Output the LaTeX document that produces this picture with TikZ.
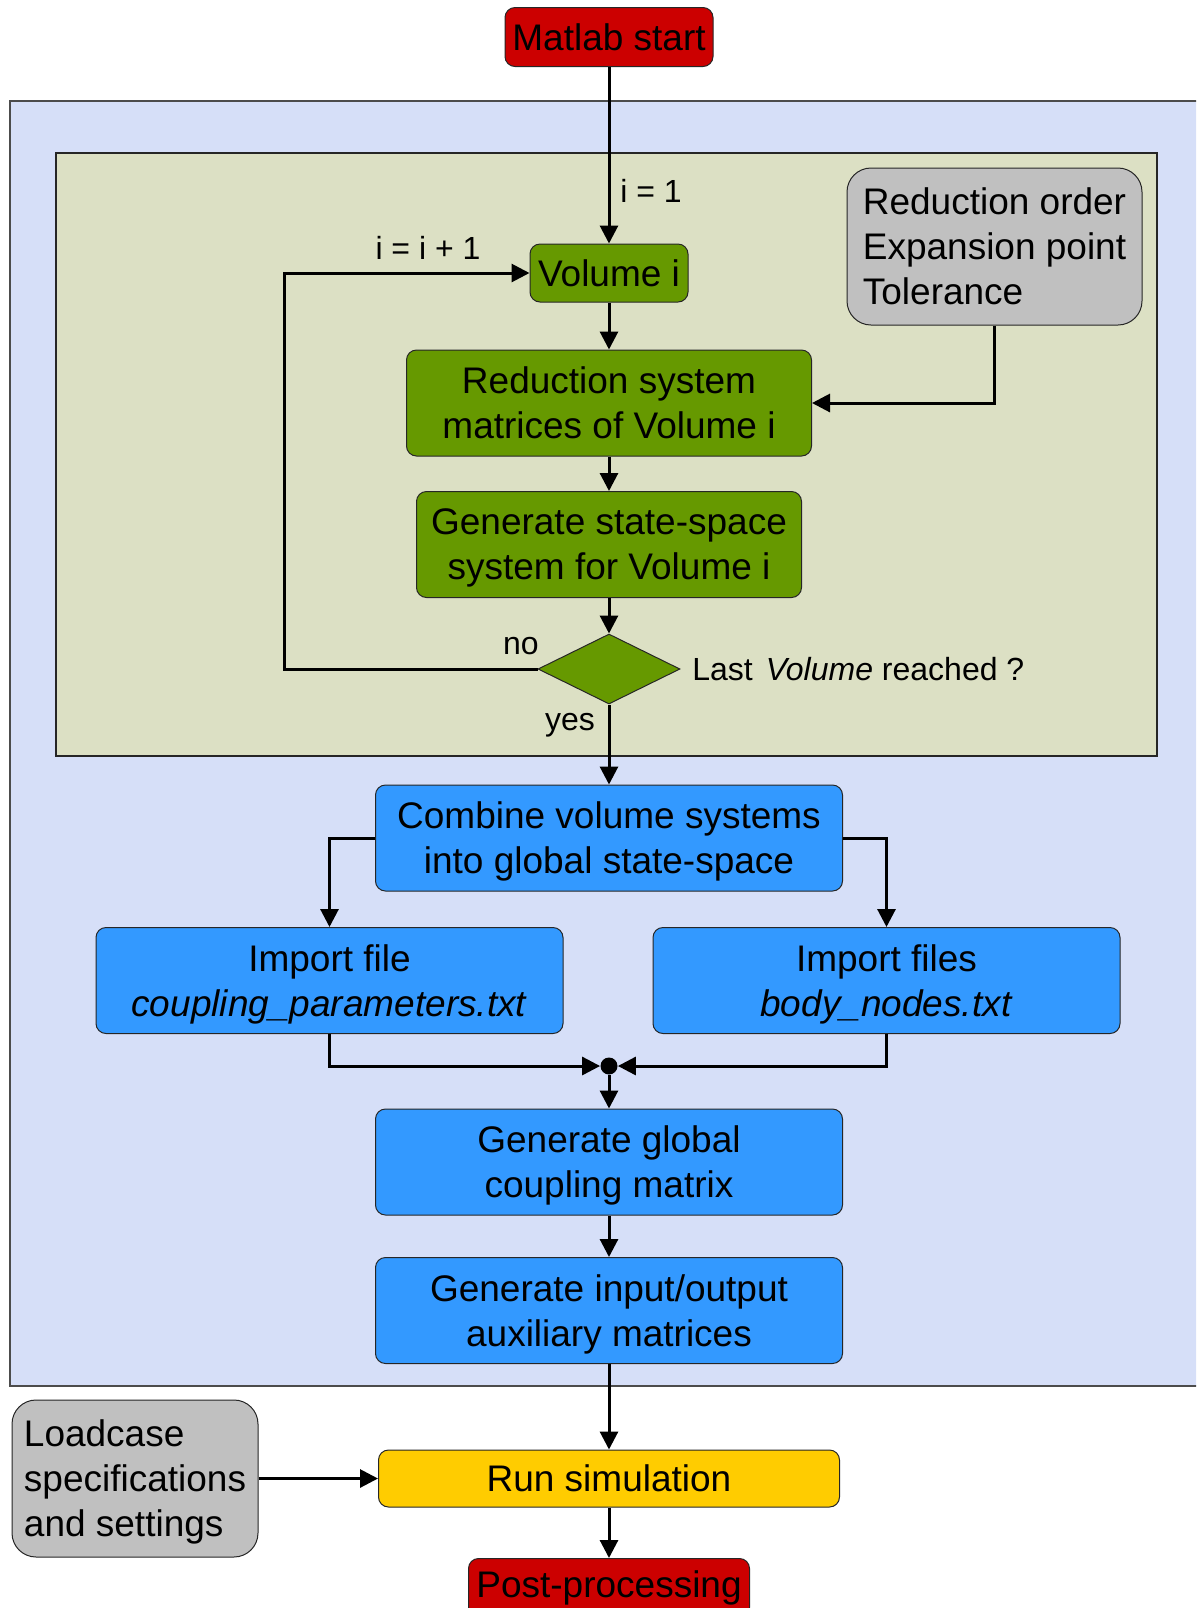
\documentclass[tikz,border=0pt]{standalone}
\usepackage{fontspec}
\setmainfont{Liberation Sans}
\usetikzlibrary{arrows.meta, shapes.geometric}

\definecolor{startred}{RGB}{204,0,0}
\definecolor{volgreen}{RGB}{102,153,0}
\definecolor{loopbg}{RGB}{220,224,196}
\definecolor{modelbg}{RGB}{214,223,248}
\definecolor{simblue}{RGB}{51,153,255}
\definecolor{paramgray}{RGB}{192,192,192}
\definecolor{runyellow}{RGB}{255,204,0}

\tikzset{
  box/.style={draw=black!85, line width=0.5pt, rounded corners=5pt, align=center, inner sep=2pt},
  % two-line boxes sit their text a bit lower
  twoline/.style={text depth=-1pt},
  term/.style={box, fill=startred, minimum height=29.5pt},
  vbox/.style={box, fill=volgreen, minimum height=53pt},
  sbox/.style={box, twoline, fill=simblue, minimum width=233.5pt, minimum height=53pt},
  param/.style={box, fill=paramgray, rounded corners=12pt, align=left},
  flow/.style={line width=1.5pt, -{Triangle[length=9pt, width=9pt]}},
  lbl/.style={font=\fontsize{16}{19}\selectfont, inner sep=0pt},
}

\begin{document}
\begin{tikzpicture}[x=0.5pt, y=-0.5pt, font=\fontsize{18.5}{22.5}\selectfont]
\useasboundingbox (0,0) rectangle (1196,1608);
\clip (0,0) rectangle (1196,1608);

% frames
\path[draw=black!70, line width=0.6pt, fill=modelbg] (10,101) rectangle (1220,1386);
\path[draw=black!85, line width=0.6pt, fill=loopbg] (56,153) rectangle (1157,756);

% loop over the volumes
\node[term, minimum width=104pt] (start) at (609,37) {Matlab start};
\node[vbox, minimum width=79pt, minimum height=29pt] (vol) at (609,273) {Volume i};
\node[vbox, text depth=-4pt, minimum width=202.5pt] (red) at (609,403) {Reduction system\\matrices of Volume i};
\node[vbox, twoline, minimum width=192.5pt] (gen) at (609,544.5) {Generate state-space\\system for Volume i};
\node[diamond, fill=volgreen, draw=black!85, line width=0.5pt, inner sep=0pt,
      minimum width=71pt, minimum height=35pt] (last) at (609,669) {};
\node[param, text depth=-4pt, minimum width=147.5pt, minimum height=78.5pt] (ord) at (994.5,246.5)
  {Reduction order\\Expansion point\\Tolerance};
\coordinate (loopx) at (284,273);

\node[lbl, anchor=west] (lblone) at (620,191) {i = 1};
\node[lbl] (lblinc) at (428,248) {i = i + 1};
\node[lbl] (lblno) at (521,646) {no};
\node[lbl] (lblyes) at (570,725) {yes};
\node[lbl, anchor=west] (lbllast) at (692,669) {Last\ \hspace{2pt}\textit{Volume} reached ?};

% global system
\node[sbox] (comb) at (609,838) {Combine volume systems\\into global state-space};
\node[sbox] (impA) at (329.5,980.5) {Import file\\\textit{coupling\_parameters.txt}};
\node[sbox] (impB) at (886.5,980.5) {Import files\\\textit{body\_nodes.txt}};
\node[circle, fill=black, inner sep=0pt, minimum size=8.5pt] (dot) at (609,1066) {};
\node[sbox] (glob) at (609,1162) {Generate global\\coupling matrix};
\node[sbox] (aux) at (609,1310.5) {Generate input/output\\auxiliary matrices};

% simulation
\node[param, text depth=0pt, minimum width=123pt, minimum height=78.5pt] (load) at (135,1478.5)
  {Loadcase\\specifications\\and settings};
\node[box, fill=runyellow, minimum width=230.5pt, minimum height=28.5pt] (run) at (609,1478.5) {Run simulation};
\node[term, minimum width=140.5pt] (post) at (609,1588) {Post-processing};

\draw[flow] (start) -- (vol);
\draw[flow] (vol) -- (red);
\draw[flow] (red) -- (gen);
\draw[flow] (gen) -- (last);
\draw[flow] (last.west) -| (loopx) -- (vol.west);
\draw[flow] (ord.south) |- (red.east);
\draw[flow] (last.south) -- (comb.north);

\draw[flow] (comb.west) -| (impA.north);
\draw[flow] (comb.east) -| (impB.north);
\draw[flow] (impA.south) |- (dot.west);
\draw[flow] (impB.south) |- (dot.east);
\draw[flow] (dot) -- (glob);
\draw[flow] (glob) -- (aux);
\draw[flow] (aux) -- (run);
\draw[flow] (load) -- (run);
\draw[flow] (run) -- (post);
\end{tikzpicture}
\end{document}
